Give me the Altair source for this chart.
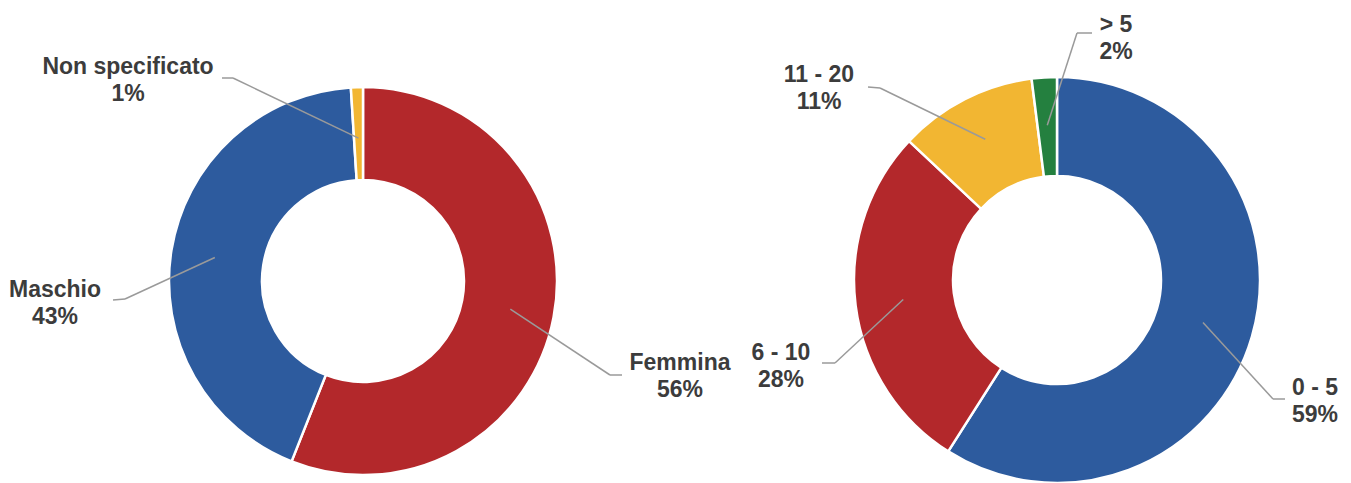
import altair as alt
import pandas as pd

# ---- data ----
gender_labels = ["Femmina", "Maschio", "Non specificato"]
gender_values = [56, 43, 1]
gender_colors = ["#B3282B", "#2D5B9E", "#F2B632"]

age_labels = ["0 - 5", "6 - 10", "11 - 20", "> 5"]
age_values = [59, 28, 11, 2]
age_colors = ["#2D5B9E", "#B3282B", "#F2B632", "#24803F"]

# ---- label layout: offsets from donut centre in px (y downward) ----
# lx/ly: first text line centre, ex/ey: leader elbow, tx/ty: leader end, r: leader start radius
gender_layout = {
    "Femmina":         dict(lx=317, ly=82,   ex=247,  ey=94,   tx=259,  ty=94,   r=150),
    "Maschio":         dict(lx=-308, ly=9,   ex=-238, ey=18,   tx=-250, ty=19,   r=150),
    "Non specificato": dict(lx=-235, ly=-214, ex=-130, ey=-203, tx=-141, ty=-203, r=143),
}
age_layout = {
    "0 - 5":   dict(lx=258,  ly=108,  ex=216,  ey=119,  tx=228,  ty=119,  r=152),
    "6 - 10":  dict(lx=-276, ly=73,   ex=-222, ey=83,   tx=-235, ty=83,   r=155),
    "11 - 20": dict(lx=-238, ly=-205, ex=-177, ey=-192, tx=-189, ty=-193, r=158),
    "> 5":     dict(lx=59,   ly=-255, ex=20,   ey=-247, tx=35,   ty=-247, r=155),
}

LINE_GAP = 27
FONT = "Liberation Sans"
TEXT_COLOR = "#3c3c3c"
LEADER_COLOR = "#9a9a9a"
H = 483


def donut(labels, values, colors, layout, W, cx, cy, r_out, r_in):
    rows = []
    for i, (lab, val) in enumerate(zip(labels, values)):
        row = {"cat": lab, "value": val, "order": i}
        row.update(layout[lab])
        rows.append(row)
    df = pd.DataFrame(rows)
    base = alt.Chart(df)

    # scales: donut centre is the origin (0, 0) of each panel
    xs = alt.Scale(domain=[-cx, W - cx], nice=False, zero=False)
    ys = alt.Scale(domain=[-cy, H - cy], nice=False, zero=False, reverse=True)

    arc = base.mark_arc(outerRadius=r_out, innerRadius=r_in, stroke="white", strokeWidth=2.5).encode(
        x=alt.XDatum(0, type="quantitative", scale=xs, axis=None),
        y=alt.YDatum(0, type="quantitative", scale=ys, axis=None),
        theta=alt.Theta("value:Q", stack=True),
        color=alt.Color("cat:N", scale=alt.Scale(domain=labels, range=colors), legend=None),
        order=alt.Order("order:Q"),
    )

    calc = (
        base.transform_window(cum="sum(value)", sort=[alt.SortField("order")], frame=[None, 0])
        .transform_joinaggregate(total="sum(value)")
        .transform_calculate(
            mid="(datum.cum - datum.value / 2) / datum.total * 2 * PI",
        )
        .transform_calculate(
            sx="datum.r * sin(datum.mid)",
            sy="-datum.r * cos(datum.mid)",
            pct="datum.value + '%'",
            ly2="datum.ly + %d" % LINE_GAP,
        )
    )

    rule1 = calc.mark_rule(color=LEADER_COLOR, strokeWidth=1.5).encode(
        x=alt.X("sx:Q", scale=xs, axis=None),
        y=alt.Y("sy:Q", scale=ys, axis=None),
        x2="ex:Q",
        y2="ey:Q",
    )
    rule2 = calc.mark_rule(color=LEADER_COLOR, strokeWidth=1.5).encode(
        x=alt.X("ex:Q", scale=xs, axis=None),
        y=alt.Y("ey:Q", scale=ys, axis=None),
        x2="tx:Q",
        y2="ty:Q",
    )
    txt_kw = dict(font=FONT, fontSize=23, fontWeight="bold", color=TEXT_COLOR,
                  align="center", baseline="middle")
    name = calc.mark_text(**txt_kw).encode(
        x=alt.X("lx:Q", scale=xs, axis=None),
        y=alt.Y("ly:Q", scale=ys, axis=None),
        text="cat:N",
    )
    pct = calc.mark_text(**txt_kw).encode(
        x=alt.X("lx:Q", scale=xs, axis=None),
        y=alt.Y("ly2:Q", scale=ys, axis=None),
        text="pct:N",
    )
    return alt.layer(arc, rule1, rule2, name, pct).properties(width=W, height=H)


W1 = 700
W2 = 651
left = donut(gender_labels, gender_values, gender_colors, gender_layout, W1, 363, 281, 194, 101)
right = donut(age_labels, age_values, age_colors, age_layout, W2, 1057 - W1, 280, 203, 104)

chart = (
    alt.hconcat(left, right, spacing=0, bounds="flush")
    .resolve_scale(color="independent", x="independent", y="independent")
    .properties(padding=0, background="white")
    .configure_view(stroke=None)
)

chart.save("out.html", embed_options={"renderer": "svg", "actions": False})
